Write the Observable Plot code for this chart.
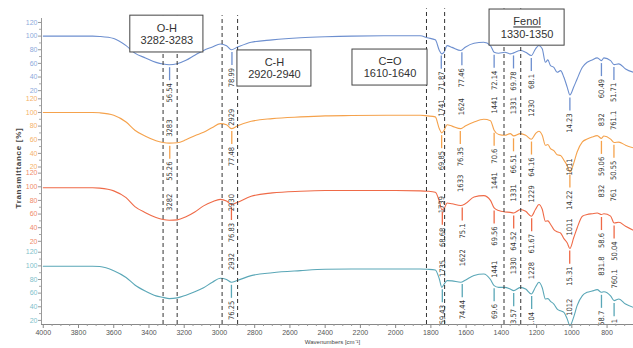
<!DOCTYPE html>
<html><head><meta charset="utf-8">
<script src="https://cdn.jsdelivr.net/npm/d3@7"></script>
<script src="https://cdn.jsdelivr.net/npm/@observablehq/plot@0.6"></script>
<style>body{margin:0;background:#fff;} svg text{white-space:pre;}</style>
</head><body><div id="chart"></div>
<script>
// ---- data ----
const wavenumbers = [4000,3720,3680,3600,3530,3480,3420,3360,3320,3285,3240,3190,3140,3090,3040,2995,2960,2932,2900,2820,2700,2540,2400,2250,2000,1860,1820,1775,1752,1738,1725,1708,1680,1630,1605,1555,1500,1462,1441,1415,1380,1350,1330,1292,1262,1230,1206,1187,1168,1150,1136,1121,1102,1083,1064,1045,1026,1011,990,970,940,913,885,856,832,818,780,760,733,695,650];
const blueT = [100,100,99.5,96.5,86,75,68,61.5,59,58,59.5,64.5,72,79,84,88.5,86,80,83.5,91,94.5,97.5,99,100,100.5,100.5,97.5,94.5,79,74,76.5,86,83.5,78.8,83.7,89.6,91,86.2,76.3,74.9,76.3,74,75.4,78.8,76.3,71.5,81.3,86.2,81.3,61.6,65.1,56.8,54.3,46.9,49.4,39.6,24.9,13.7,24.9,37.2,54.3,61.6,65.1,68.1,64.1,68.1,64.1,58.2,59.3,51.9,46.9];
const orangeT = [100,100,99.5,96,86,74,65,58.5,56,55,55.5,60,66,71,78,83.7,82,76.3,80,87,91,93.5,95,95.5,96,96,95,93.5,76,70,74,82,80,76.3,80,86,90,88,74,67.8,66.6,69,65.6,69,66.6,60.7,69,72.5,66.6,51.9,53,47,44,38,37,30,22,12.6,25,42,56.8,61,64,66,62,65.5,61,56,56.5,52,48];
const redT = [98.5,98.5,98,94,84,71,62,55,52,51,51.5,56,63,72,78,81.5,79,74,77,86,91,93.5,94.5,94.5,94.5,94,93.5,92,78.8,66.6,68,76.3,75,72.5,75,85,87,80,69,65.1,63.1,62.5,61.6,66.6,64,56.8,67,74,67,49.4,50,45,37.2,34,32.2,24,17.5,9.5,24.8,39.6,56.8,59.3,60.5,61.6,59.3,60.5,57,46.9,48,42,36];
const tealT = [99.4,99.4,99,93,83,72,63,56,53.8,52,53,57,62,68,76,81.8,80,75.9,78.4,85.7,90,93,95,95.4,95.4,95.4,95,94,80.8,68.5,73,78.4,78,75.9,79,86,88,80,71,68.5,68.5,66,63.7,68.5,66,58.7,69,75.9,68,51.3,52,48,44,36.6,34,31.8,21.9,12.2,24.4,41.6,56.3,61.2,63,65.1,61.2,62,56,49,51.3,44,39];

const bluePeakWn = [3283,2929,1741,1624,1441,1331,1230,1011,832,761.1];
const bluePeakText = ["3283        56.54","2929          78.99","1741    71.87","1624     77.46","1441   72.14","1331   69.78","1230     68.1","1011            14.23","832       60.49","761.1    51.71"];
const orangePeakWn = [3282,2930,1739,1633,1441,1331,1229,1011,832,761];
const orangePeakText = ["3282      55.26","2930             77.48","1739            69.85","1633    76.35","1441    70.6","1331     66.51","1229    64.16","1011    14.22","832    59.06","761    50.55"];
const redPeakWn = [2932,1735,1622,1441,1330,1228,1012,831.8,760.1];
const redPeakText = ["2932     76.83","1735      68.68","1622     75.1","1441       69.56","1330   64.52","1228    61.67","1012      15.31","831.8    58.6","760.1    50.04"];
const tealPeakWn = [2932,1735,1622,1441,1330,1228,1012,831.8,760.1];
const tealPeakText = ["2932    76.25","1735    59.43","1622    74.44","1441    69.6","1330    63.57","1228    61.04","1012    12.8","831.8    58.7","760.1    49.51"];

const yTicks = [20,40,60,80,100,120];
const yMinor = [30,50,70,90,110];
const xTicks = [4000,3800,3600,3400,3200,3000,2800,2600,2400,2200,2000,1800,1600,1400,1200,1000,800];

const bandLabels = ["O-H\n3282-3283","C-H\n2920-2940","C=O\n1610-1640","Fenol\n1330-1350"];
const bandEdgesHigh = [3320,2985,1825,1385];
const bandEdgesLow = [3240,2897,1722,1290];
// box placement (wavenumber / stacked-transmittance units)
const boxX1 = [3506,2898,2245,1467];
const boxX2 = [3091,2478,1819,1041];
const boxY1 = [413,363,364.5,423];
const boxY2 = [467,416,417.3,476];
const ruleTop = [467,467,477,477];

// ---- setup ----
const seriesNames = ["blue","orange","red","teal"];
const offsets = {blue:337, orange:225, red:116, teal:0};
const lineColors = {blue:"#6d8fcf", orange:"#f5a24c", red:"#ef6a47", teal:"#5aa7b7"};
const tickColors = {blue:"#8eaadc", orange:"#f5b26b", red:"#f08a6c", teal:"#7fbfcc"};
const seriesT = {blue:blueT, orange:orangeT, red:redT, teal:tealT};
const peakWn = {blue:bluePeakWn, orange:orangePeakWn, red:redPeakWn, teal:tealPeakWn};
const peakText = {blue:bluePeakText, orange:orangePeakText, red:redPeakText, teal:tealPeakText};

function curveAt(s, w) {
  const arr = seriesT[s];
  for (let i = 0; i < wavenumbers.length - 1; i++) {
    const a = wavenumbers[i], b = wavenumbers[i+1];
    if (w <= a && w >= b) return arr[i] + (arr[i+1]-arr[i]) * (a-w)/(a-b);
  }
  return arr[arr.length-1];
}

const rows = {};
const peaks = {};
for (const s of seriesNames) {
  rows[s] = wavenumbers.map((w,i) => ({wn:w, y: seriesT[s][i] + offsets[s]}));
  peaks[s] = peakWn[s].map((w,i) => ({wn:w, text: peakText[s][i], c: curveAt(s,w) + offsets[s]}));
}
const allPeaks = seriesNames.flatMap(s => peaks[s]);
const boxes = bandLabels.map((t,i) => ({text:t, x1:boxX1[i], x2:boxX2[i], y1:boxY1[i], y2:boxY2[i]}));
const edges = bandEdgesHigh.flatMap((h,i) => [{wn:h, top:ruleTop[i]}, {wn:bandEdgesLow[i], top:ruleTop[i]}]);
const xMinor = d3.range(3950, 650, -50).filter(v => v % 200 !== 0);

const marks = [];
for (const s of seriesNames) {
  marks.push(Plot.line(rows[s], {x:"wn", y:"y", stroke: lineColors[s], strokeWidth: 1.1, curve: "monotone-x"}));
}
for (const s of seriesNames) {
  marks.push(Plot.ruleX(peaks[s], {x:"wn", y1: d => d.c - 4.4, y2: d => d.c - 23.5, stroke: lineColors[s], strokeWidth: 1.3, clip: true}));
}
marks.push(Plot.text(allPeaks, {x:"wn", y: d => d.c - 27, text:"text", rotate:-90, textAnchor:"end", lineAnchor:"middle", fontSize:7.5, fill:"#333", fontFamily:"'Liberation Sans Narrow','DejaVu Sans Condensed','Liberation Sans',Arial,sans-serif", clip:true}));
marks.push(Plot.ruleX(edges, {x:"wn", y1: 14, y2: "top", stroke:"#333", strokeWidth:1, strokeDasharray:"4,3"}));
marks.push(Plot.rect(boxes, {x1:"x1", x2:"x2", y1:"y1", y2:"y2", fill:"white", stroke:"#444", strokeWidth:1}));
marks.push(Plot.text(boxes, {x: d => (d.x1+d.x2)/2, y: d => (d.y1+d.y2)/2, text:"text", fontSize:11, lineHeight:1.1, fill:"#333"}));
// axes
marks.push(Plot.ruleY([14], {x1:4010, x2:650, stroke:"#888"}));
marks.push(Plot.ruleX([4010], {y1:14, y2:462.8, stroke:"#999"}));
marks.push(Plot.axisX({ticks:xTicks, tickFormat: d => String(d), tickSize:4, tickPadding:2, label:null, color:"#555", stroke:"#888", fontSize:7}));
marks.push(Plot.axisX({ticks:xMinor, tickSize:2, tickFormat: () => "", label:null, stroke:"#999"}));
for (const s of seriesNames) {
  const off = offsets[s];
  marks.push(Plot.axisY({ticks: yTicks.map(t => t + off), tickFormat: d => String(d - off), tickSize:3, tickPadding:1, label:null, color: tickColors[s], stroke:"#999", fontSize:7}));
  marks.push(Plot.axisY({ticks: yMinor.map(t => t + off), tickFormat: () => "", tickSize:2, label:null, stroke:"#aaa"}));
}
marks.push(Plot.text(["Transmittance [%]"], {frameAnchor:"left", dx:-23, dy:42, rotate:-90, text: d => d, fontSize:8, fontWeight:"bold", fill:"#444"}));
marks.push(Plot.text(["Wavenumbers [cm\u207B\u00B9]"], {frameAnchor:"bottom", dx:-5, dy:19, text: d => d, fontSize:6, fill:"#444"}));

const chart = Plot.plot({
  width: 633, height: 348,
  marginLeft: 41, marginRight: 0, marginTop: 8, marginBottom: 24,
  x: {domain:[4010,650], axis:null},
  y: {domain:[14,477.5], axis:null},
  style: {fontFamily:"'Liberation Sans',Arial,sans-serif", fontSize:"7px", background:"white", overflow:"visible"},
  marks
});
document.getElementById("chart").appendChild(chart);
d3.select(chart).selectAll("text, tspan").each(function() {
  const t = this.textContent;
  if (t === "Transmittance [%]") this.style.letterSpacing = "0.7px";
  if (t === "Fenol" && this.tagName === "tspan") { this.style.textDecoration = "underline wavy #e02020"; }
});
</script></body></html>
